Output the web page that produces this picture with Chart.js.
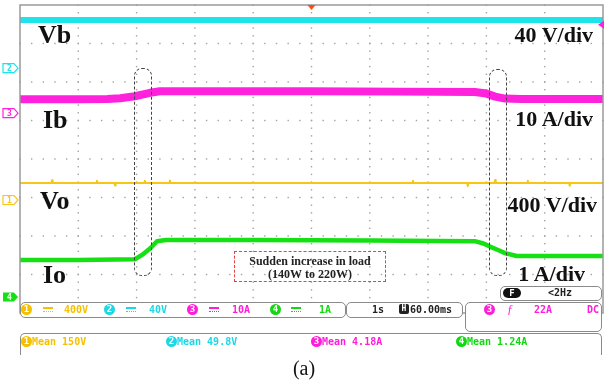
<!DOCTYPE html>
<html>
<head>
<meta charset="utf-8">
<script src="https://cdn.jsdelivr.net/npm/chart.js@4/dist/chart.umd.min.js"></script>
<style>
body { margin: 0; background: #fff; }
#wrap { position: relative; width: 608px; height: 384px; overflow: hidden; font-family: "DejaVu Sans Mono", monospace; }
#scope { position: absolute; left: 0; top: 0; }
.lbl { position: absolute; font-family: "Liberation Serif", "Times New Roman", serif; font-weight: bold; color: #111; line-height: 1; white-space: nowrap; }
.big { font-size: 26px; }
.div { font-size: 22px; }
.oval { position: absolute; border: 1px dashed #444; border-radius: 8px; }
.note { position: absolute; left: 234px; top: 251px; width: 152px; height: 31px; border: 1px dashed #e84040;
        font-family: "Liberation Serif", serif; font-weight: bold; font-size: 12px; line-height: 13px; text-align: center; color: #222; padding-top: 3px; box-sizing: border-box; }
.box { position: absolute; border: 1.5px solid #8a8a8a; border-radius: 5px; background: #fff; box-sizing: border-box; }
.t { position: absolute; font-size: 10px; font-weight: bold; line-height: 10px; white-space: nowrap; }
.dot { position: absolute; width: 11px; height: 11px; border-radius: 6px; color: #fff; font-size: 9px; font-weight: bold; text-align: center; line-height: 11px; }
.dc { position: absolute; width: 10px; height: 2px; border-top: 2px solid; border-bottom: 1px dotted; }
#cap { position: absolute; left: 0; width: 608px; top: 357px; text-align: center; font-family: "Liberation Serif", serif; font-size: 20px; color: #111; }
</style>
</head>
<body>
<div id="wrap">
<canvas id="scope" width="608" height="384"></canvas>

<div class="lbl big" style="left:38px;top:22px">Vb</div>
<div class="lbl big" style="left:43px;top:107px">Ib</div>
<div class="lbl big" style="left:40px;top:188px">Vo</div>
<div class="lbl big" style="left:43px;top:262px">Io</div>
<div class="lbl div" style="right:15px;top:24px">40 V/div</div>
<div class="lbl div" style="right:15px;top:108px">10 A/div</div>
<div class="lbl div" style="right:11px;top:194px">400 V/div</div>
<div class="lbl div" style="right:23px;top:263px">1 A/div</div>

<div class="oval" style="left:134px;top:68px;width:16px;height:206px"></div>
<div class="oval" style="left:489px;top:69px;width:16px;height:205px"></div>
<div class="note">Sudden increase in load<br>(140W to 220W)</div>

<!-- F / <2Hz -->
<div class="box" style="left:500px;top:286px;width:102px;height:15px">
  <div style="position:absolute;left:2px;top:1px;width:18px;height:10px;background:#111;border-radius:5px;color:#fff;font-size:9px;font-weight:bold;text-align:center;line-height:10px">F</div>
  <div class="t" style="left:47px;top:1px;color:#222">&lt;2Hz</div>
</div>

<!-- channel scales -->
<div class="box" style="left:20px;top:302px;width:326px;height:16px">
  <div class="dot" style="left:0px;top:1px;background:#f5c000">1</div>
  <div class="dc" style="left:22px;top:4px;color:#f5c000"></div>
  <div class="t" style="left:43px;top:2px;color:#f5c000">400V</div>
  <div class="dot" style="left:83px;top:1px;background:#19d9e6">2</div>
  <div class="dc" style="left:105px;top:4px;color:#19d9e6"></div>
  <div class="t" style="left:128px;top:2px;color:#19d9e6">40V</div>
  <div class="dot" style="left:166px;top:1px;background:#ff1ed8">3</div>
  <div class="dc" style="left:188px;top:4px;color:#ff1ed8"></div>
  <div class="t" style="left:211px;top:2px;color:#ff1ed8">10A</div>
  <div class="dot" style="left:249px;top:1px;background:#12d812">4</div>
  <div class="dc" style="left:270px;top:4px;color:#12d812"></div>
  <div class="t" style="left:298px;top:2px;color:#12d812">1A</div>
</div>

<div class="box" style="left:346px;top:302px;width:117px;height:16px">
  <div class="t" style="left:25px;top:2px;color:#222">1s</div>
  <div style="position:absolute;left:52px;top:1px;width:10px;height:10px;background:#222;border-radius:2px;color:#fff;font-size:8px;font-weight:bold;text-align:center;line-height:10px">H</div>
  <div class="t" style="left:63px;top:2px;color:#222">60.00ms</div>
</div>

<div class="box" style="left:465px;top:302px;width:137px;height:30px">
  <div class="dot" style="left:18px;top:1px;background:#ff1ed8">3</div>
  <div class="t" style="left:41px;top:1px;color:#ff1ed8;font-family:'Liberation Serif',serif;font-style:italic;font-weight:normal;font-size:12px">ƒ</div>
  <div class="t" style="left:68px;top:2px;color:#ff1ed8">22A</div>
  <div class="t" style="left:121px;top:2px;color:#ff1ed8">DC</div>
</div>

<!-- measurements -->
<div class="box" style="left:20px;top:333px;width:582px;height:22px;border-bottom:none;border-radius:5px 5px 0 0">
  <div class="dot" style="left:0px;top:2px;background:#f5c000">1</div>
  <div class="t" style="left:11px;top:3px;color:#f5c000">Mean 150V</div>
  <div class="dot" style="left:145px;top:2px;background:#19d9e6">2</div>
  <div class="t" style="left:156px;top:3px;color:#19d9e6">Mean 49.8V</div>
  <div class="dot" style="left:290px;top:2px;background:#ff1ed8">3</div>
  <div class="t" style="left:301px;top:3px;color:#ff1ed8">Mean 4.18A</div>
  <div class="dot" style="left:435px;top:2px;background:#12d812">4</div>
  <div class="t" style="left:446px;top:3px;color:#12d812">Mean 1.24A</div>
</div>

<div id="cap">(a)</div>
</div>

<script>
// time base: 1 s/div, 10 divisions
// Vb (ch2), volts
const tVb = [0, 1, 2, 3, 4, 5, 6, 7, 8, 9, 10];
const vb  = [50, 50, 50, 50, 50, 50, 50, 50, 50, 50, 50];

// Ib (ch3), amps
const tIb = [0, 1.0, 1.5, 1.72, 1.97, 2.23, 2.4, 3.5, 5.0, 6.5, 7.8, 8.0, 8.15, 8.32, 8.6, 10];
const ib  = [3.6, 3.6, 3.7, 3.9, 4.4, 5.3, 5.7, 5.7, 5.7, 5.6, 5.5, 5.1, 4.3, 3.8, 3.7, 3.7];

// Vo (ch1), volts, with the small spikes that show on the trace
const tVo = [0, 0.54, 0.55, 0.56, 1.31, 1.32, 1.33, 1.62, 1.63, 1.64, 2.13, 2.14, 2.15, 2.56, 2.57, 2.58,
             6.73, 6.74, 6.75, 7.67, 7.68, 7.69, 8.14, 8.15, 8.16, 8.70, 8.71, 8.72, 9.42, 9.43, 9.44, 10];
const vo  = [176, 176, 205, 176, 176, 200, 176, 176, 150, 176, 176, 200, 176, 176, 202, 176,
             176, 200, 176, 176, 145, 176, 176, 208, 176, 176, 200, 176, 176, 148, 176, 176];

// Io (ch4), amps
const tIo = [0, 1.0, 1.97, 2.1, 2.23, 2.35, 2.5, 4.0, 6.0, 7.8, 7.95, 8.06, 8.2, 8.32, 8.52, 10];
const io  = [0.96, 0.96, 0.98, 1.1, 1.26, 1.45, 1.48, 1.48, 1.47, 1.45, 1.39, 1.31, 1.22, 1.14, 1.065, 1.065];

// volts or amps per division, and ground marker position in divisions from the bottom
const chScale  = { ch1: 400, ch2: 40, ch3: 10, ch4: 1 };
const chGround = { ch1: 2.935, ch2: 6.36, ch3: 5.19, ch4: 0.415 };
const chColor  = { ch1: '#f5c518', ch2: '#1de4ea', ch3: '#ff22dd', ch4: '#14e014' };

function pts(t, v) {
    return t.map((x, i) => ({ x: x, y: v[i] }));
}

function chAxis(ch) {
    return {
        type: 'linear', display: false,
        min: -chGround[ch] * chScale[ch],
        max: (8 - chGround[ch]) * chScale[ch]
    };
}

// dotted scope graticule, 5 dots per division
const graticule = {
    id: 'graticule',
    beforeDatasetsDraw(chart) {
        const ctx = chart.ctx;
        const sx = chart.scales.x, sy = chart.scales.y;
        ctx.save();
        ctx.fillStyle = '#a2a2a2';
        for (let r = 1; r < 8; r++) {
            const py = sy.getPixelForValue(r);
            for (let k = 0; k <= 50; k++) {
                ctx.fillRect(sx.getPixelForValue(k / 5) - 0.7, py - 0.7, 1.4, 1.4);
            }
        }
        for (let c = 1; c < 10; c++) {
            const px = sx.getPixelForValue(c);
            for (let k = 0; k <= 40; k++) {
                ctx.fillRect(px - 0.7, sy.getPixelForValue(k / 5) - 0.7, 1.4, 1.4);
            }
        }
        ctx.restore();
    }
};

const decor = {
    id: 'decor',
    afterDraw(chart) {
        const ctx = chart.ctx;
        const a = chart.chartArea;
        ctx.save();
        // frame
        ctx.strokeStyle = '#9a9a9a';
        ctx.lineWidth = 1.5;
        ctx.setLineDash([]);
        ctx.strokeRect(a.left, a.top, a.right - a.left, a.bottom - a.top);

        // channel ground markers on the left
        const marks = [['ch2', '2', false], ['ch3', '3', false], ['ch1', '1', false], ['ch4', '4', true]];
        ctx.font = 'bold 8px "DejaVu Sans Mono"';
        ctx.textAlign = 'center';
        ctx.textBaseline = 'middle';
        marks.forEach(m => {
            const y = chart.scales[m[0]].getPixelForValue(0);
            const c = chColor[m[0]];
            ctx.beginPath();
            ctx.moveTo(3, y - 4.5);
            ctx.lineTo(14, y - 4.5);
            ctx.lineTo(18, y);
            ctx.lineTo(14, y + 4.5);
            ctx.lineTo(3, y + 4.5);
            ctx.closePath();
            if (m[2]) {
                ctx.fillStyle = c;
                ctx.fill();
                ctx.fillStyle = '#fff';
            } else {
                ctx.strokeStyle = c;
                ctx.lineWidth = 1.2;
                ctx.stroke();
                ctx.fillStyle = c;
            }
            ctx.fillText(m[1], 9.5, y + 0.5);
        });

        // trigger position (top) and trigger level (right)
        const xt = chart.scales.x.getPixelForValue(5);
        ctx.fillStyle = '#ff4a1a';
        ctx.beginPath();
        ctx.moveTo(xt - 4, a.top);
        ctx.lineTo(xt + 4, a.top);
        ctx.lineTo(xt, a.top + 5);
        ctx.closePath();
        ctx.fill();

        const yl = chart.scales.ch3.getPixelForValue(23);
        ctx.fillStyle = chColor.ch3;
        ctx.beginPath();
        ctx.moveTo(a.right + 1, yl - 4);
        ctx.lineTo(a.right + 1, yl + 4);
        ctx.lineTo(a.right - 5, yl);
        ctx.closePath();
        ctx.fill();
        ctx.restore();
    }
};

const chart = new Chart(document.getElementById('scope'), {
    type: 'line',
    data: {
        datasets: [
            { label: 'Vb', data: pts(tVb, vb), yAxisID: 'ch2', borderColor: chColor.ch2, borderWidth: 6 },
            { label: 'Ib', data: pts(tIb, ib), yAxisID: 'ch3', borderColor: chColor.ch3, borderWidth: 8 },
            { label: 'Vo', data: pts(tVo, vo), yAxisID: 'ch1', borderColor: chColor.ch1, borderWidth: 2 },
            { label: 'Io', data: pts(tIo, io), yAxisID: 'ch4', borderColor: chColor.ch4, borderWidth: 4.5 }
        ]
    },
    options: {
        responsive: false,
        animation: false,
        layout: { padding: { left: 20, right: 5, top: 5, bottom: 71 } },
        elements: {
            point: { radius: 0 },
            line: { tension: 0, borderJoinStyle: 'round', borderCapStyle: 'butt' }
        },
        plugins: { legend: { display: false }, tooltip: { enabled: false } },
        scales: {
            x: { type: 'linear', display: false, min: 0, max: 10 },
            y: { type: 'linear', display: false, min: 0, max: 8, position: 'left' },
            ch1: chAxis('ch1'),
            ch2: chAxis('ch2'),
            ch3: chAxis('ch3'),
            ch4: chAxis('ch4')
        }
    },
    plugins: [graticule, decor]
});
</script>
</body>
</html>
